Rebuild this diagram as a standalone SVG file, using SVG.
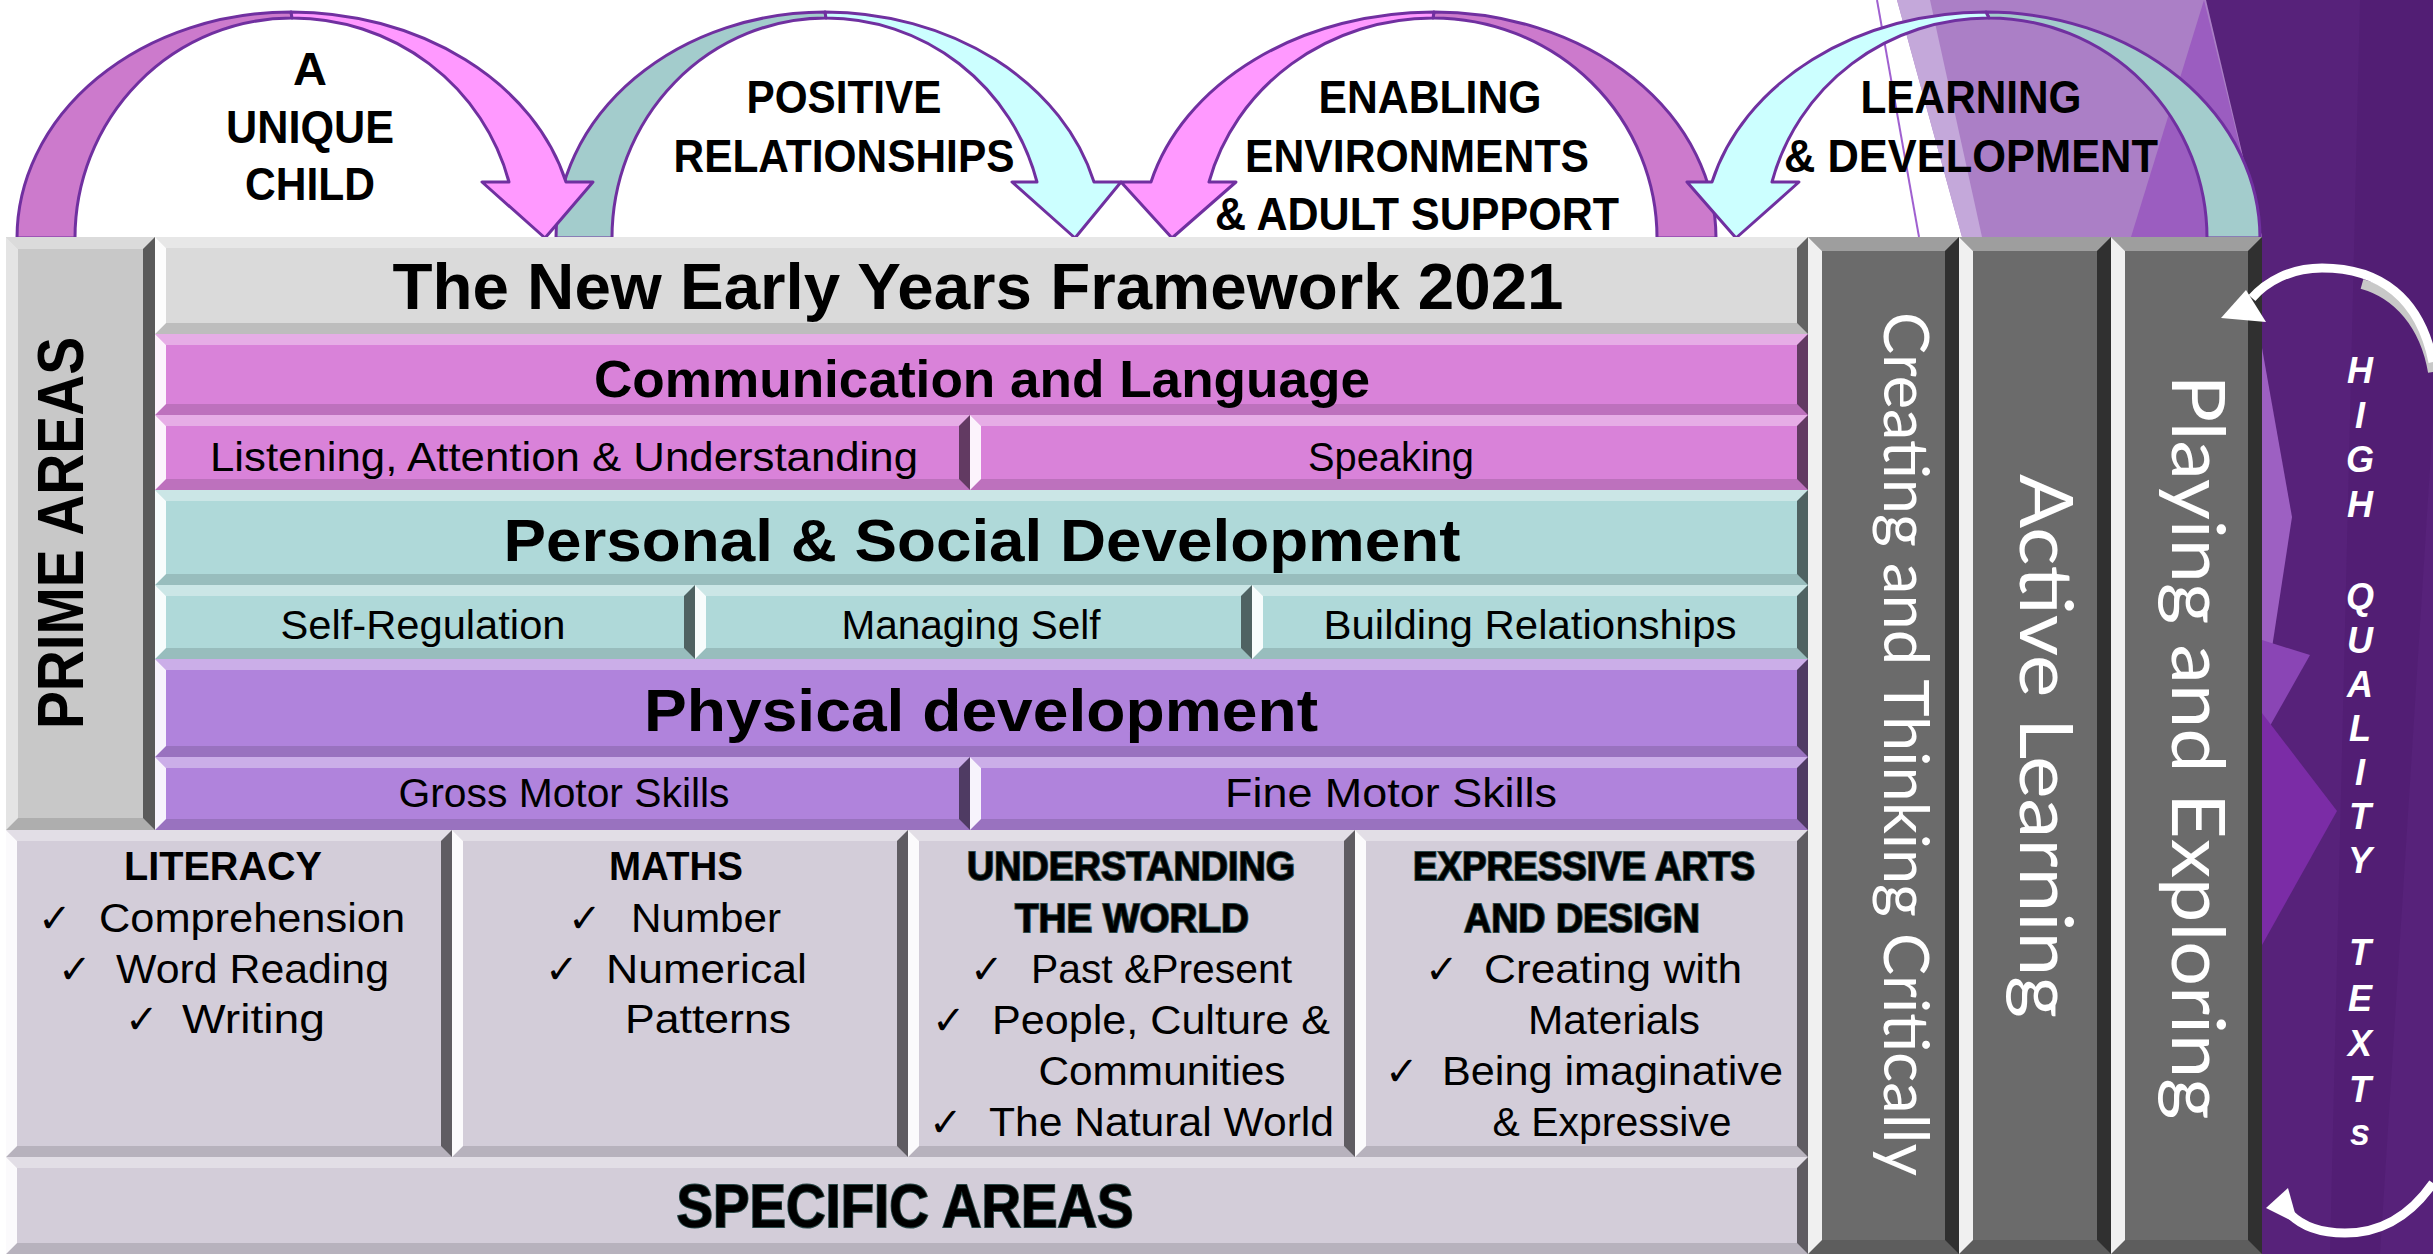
<svg xmlns="http://www.w3.org/2000/svg" width="2433" height="1254" viewBox="0 0 2433 1254">
<defs>
<style>
.t{font-family:"Liberation Sans",Arial,sans-serif;fill:#000}
.b{font-weight:bold}
.c{text-anchor:middle}
.ck{font-family:"DejaVu Sans",sans-serif;font-size:40px;fill:#000}
.w{font-family:Lato,"Open Sans",sans-serif;fill:#fff;text-anchor:middle}
.hq{font-family:"Liberation Sans",Arial,sans-serif;font-weight:bold;font-style:italic;font-size:36px;fill:#fff;text-anchor:middle}
.sh{stroke:#2a4a4a;stroke-width:2;paint-order:stroke}
.bt{fill:#fff;fill-opacity:.35}
.bb{fill:#000;fill-opacity:.13}
.bl{fill:#fff;fill-opacity:.9}
.br{fill:#000;fill-opacity:.55}
.arc{stroke:#7030a0;stroke-width:3;stroke-linejoin:round}
.title{fill:#dadada}
.cl{fill:#d982d9}
.psd{fill:#afd9d9}
.phy{fill:#b083dc}
.spec{fill:#d3cdd9}
.prime{fill:#c8c8c8}
.col{fill:#6b6b6b}
</style>
</defs>
<rect width="2433" height="1254" fill="#fff"/>
<g id="background">
<rect x="2150" y="0" width="283" height="1254" fill="#57227a"/>
<polygon points="2360,0 2433,0 2433,420 2380,1254 2330,1254" fill="#4f1c70" opacity="0.6"/>
<polygon points="1897,0 2206,0 2262,237 1962,237" fill="#ab7fc6"/>
<polygon points="1897,0 1930,0 1982,237 1962,237" fill="#c4a8da"/>
<polygon points="2204,0 2262,237 2131,237" fill="#9b5dc0"/>
<polygon points="2262,348 2292,517 2262,713" fill="#9d60c2"/>
<polygon points="2262,640 2310,655 2262,740" fill="#8a45b5"/>
<polygon points="2262,713 2337,811 2262,945" fill="#7b2ca6"/>
<line x1="1877" y1="0" x2="1919" y2="237" stroke="#a060d0" stroke-width="2"/>
</g>
<g id="connectors">
<g id="arch2">
<path class="arc" fill="#a3cccc" d="M556,238 A269,226 0 0 1 825,12 L826,18 A214,220 0 0 0 612,238 Z"/>
<path class="arc" fill="#ccffff" d="M825,12 A278,226 0 0 1 1094,182 L1121,182 L1075,238 L1012,182 L1037,182 A218,220 0 0 0 826,18 Z"/>
</g>
<g id="arch1">
<path class="arc" fill="#cc7acc" d="M17,238 A274,226 0 0 1 291,12 L292,18 A217,220 0 0 0 75,238 Z"/>
<path class="arc" fill="#ff99ff" d="M291,12 A284,226 0 0 1 566,182 L593,182 L545,238 L482,182 L509,182 A224,220 0 0 0 292,18 Z"/>
</g>
<g id="arch3">
<path class="arc" fill="#cc7acc" d="M1434,12 A282,226 0 0 1 1716,238 L1657,238 A224,220 0 0 0 1433,18 Z"/>
<path class="arc" fill="#ff99ff" d="M1151,182 A292,226 0 0 1 1434,12 L1433,18 A232,220 0 0 0 1209,182 L1236,182 L1172,238 L1121,182 Z"/>
</g>
<g id="arch4">
<path class="arc" fill="#a3cccc" d="M1986,12 A274,226 0 0 1 2260,238 L2207,238 A218,220 0 0 0 1989,18 Z"/>
<path class="arc" fill="#ccffff" d="M1712,182 A283,226 0 0 1 1986,12 L1989,18 A224,220 0 0 0 1772,182 L1799,182 L1736,238 L1687,182 Z"/>
</g>
</g>
<g id="arch-labels">
<text class="t b c" font-size="47" x="310" y="85">A</text>
<text class="t b c" font-size="47" x="310" y="143" textLength="168" lengthAdjust="spacingAndGlyphs">UNIQUE</text>
<text class="t b c" font-size="47" x="310" y="200" textLength="130" lengthAdjust="spacingAndGlyphs">CHILD</text>
<text class="t b c" font-size="47" x="844" y="113" textLength="195" lengthAdjust="spacingAndGlyphs">POSITIVE</text>
<text class="t b c" font-size="47" x="844" y="172" textLength="341" lengthAdjust="spacingAndGlyphs">RELATIONSHIPS</text>
<text class="t b c" font-size="47" x="1430" y="113" textLength="223" lengthAdjust="spacingAndGlyphs">ENABLING</text>
<text class="t b c" font-size="47" x="1417" y="172" textLength="344" lengthAdjust="spacingAndGlyphs">ENVIRONMENTS</text>
<text class="t b c" font-size="47" x="1417" y="230" textLength="404" lengthAdjust="spacingAndGlyphs">&amp; ADULT SUPPORT</text>
<text class="t b c" font-size="47" x="1971" y="113" textLength="221" lengthAdjust="spacingAndGlyphs">LEARNING</text>
<text class="t b c" font-size="47" x="1971" y="172" textLength="374" lengthAdjust="spacingAndGlyphs">&amp; DEVELOPMENT</text>
</g>
<g id="prime-areas">
<rect class="prime" x="6" y="237" width="149" height="593"/>
<polygon class="bt" points="6,237 155,237 143,249 18,249"/>
<polygon class="bb" points="6,830 155,830 143,818 18,818"/>
<polygon class="bl" points="6,237 18,249 18,818 6,830" style="fill-opacity:.5"/>
<polygon class="br" points="155,237 143,249 143,818 155,830"/>
<text class="t b c" font-size="64" transform="translate(83,533) rotate(-90)" textLength="392" lengthAdjust="spacingAndGlyphs">PRIME AREAS</text>
</g>
<g id="title">
<rect class="title" x="155" y="237" width="1653" height="97"/>
<polygon class="bt" points="155,237 1808,237 1797,248 166,248"/>
<polygon class="bb" points="155,334 1808,334 1797,323 166,323"/>
<polygon class="bl" points="155,237 166,248 166,323 155,334"/>
<polygon class="br" points="1808,237 1797,248 1797,323 1808,334"/>
<text class="t b c" font-size="64" x="978" y="309" textLength="1171" lengthAdjust="spacingAndGlyphs">The New Early Years Framework 2021</text>
</g>
<g id="communication-language">
<rect class="cl" x="155" y="334" width="1653" height="81"/>
<polygon class="bt" points="155,334 1808,334 1797,345 166,345"/>
<polygon class="bb" points="155,415 1808,415 1797,404 166,404"/>
<polygon class="bl" points="155,334 166,345 166,404 155,415"/>
<polygon class="br" points="1808,334 1797,345 1797,404 1808,415"/>
<text class="t b c" font-size="52" x="982" y="397" textLength="776" lengthAdjust="spacingAndGlyphs">Communication and Language</text>
</g>
<g id="listening">
<rect class="cl" x="155" y="415" width="815" height="75"/>
<polygon class="bt" points="155,415 970,415 959,426 166,426"/>
<polygon class="bb" points="155,490 970,490 959,479 166,479"/>
<polygon class="bl" points="155,415 166,426 166,479 155,490"/>
<polygon class="br" points="970,415 959,426 959,479 970,490"/>
<text class="t c" font-size="40" x="564" y="471" textLength="708" lengthAdjust="spacingAndGlyphs">Listening, Attention &amp; Understanding</text>
</g>
<g id="speaking">
<rect class="cl" x="970" y="415" width="838" height="75"/>
<polygon class="bt" points="970,415 1808,415 1797,426 981,426"/>
<polygon class="bb" points="970,490 1808,490 1797,479 981,479"/>
<polygon class="bl" points="970,415 981,426 981,479 970,490"/>
<polygon class="br" points="1808,415 1797,426 1797,479 1808,490"/>
<text class="t c" font-size="40" x="1391" y="471" textLength="166" lengthAdjust="spacingAndGlyphs">Speaking</text>
</g>
<g id="personal-social">
<rect class="psd" x="155" y="490" width="1653" height="95"/>
<polygon class="bt" points="155,490 1808,490 1797,501 166,501"/>
<polygon class="bb" points="155,585 1808,585 1797,574 166,574"/>
<polygon class="bl" points="155,490 166,501 166,574 155,585"/>
<polygon class="br" points="1808,490 1797,501 1797,574 1808,585"/>
<text class="t b c" font-size="60" x="982" y="561" textLength="957" lengthAdjust="spacingAndGlyphs">Personal &amp; Social Development</text>
</g>
<g id="self-regulation">
<rect class="psd" x="155" y="585" width="540" height="74"/>
<polygon class="bt" points="155,585 695,585 684,596 166,596"/>
<polygon class="bb" points="155,659 695,659 684,648 166,648"/>
<polygon class="bl" points="155,585 166,596 166,648 155,659"/>
<polygon class="br" points="695,585 684,596 684,648 695,659"/>
<text class="t c" font-size="40" x="423" y="639" textLength="285" lengthAdjust="spacingAndGlyphs">Self-Regulation</text>
</g>
<g id="managing-self">
<rect class="psd" x="695" y="585" width="557" height="74"/>
<polygon class="bt" points="695,585 1252,585 1241,596 706,596"/>
<polygon class="bb" points="695,659 1252,659 1241,648 706,648"/>
<polygon class="bl" points="695,585 706,596 706,648 695,659"/>
<polygon class="br" points="1252,585 1241,596 1241,648 1252,659"/>
<text class="t c" font-size="40" x="971" y="639" textLength="259" lengthAdjust="spacingAndGlyphs">Managing Self</text>
</g>
<g id="building-relationships">
<rect class="psd" x="1252" y="585" width="556" height="74"/>
<polygon class="bt" points="1252,585 1808,585 1797,596 1263,596"/>
<polygon class="bb" points="1252,659 1808,659 1797,648 1263,648"/>
<polygon class="bl" points="1252,585 1263,596 1263,648 1252,659"/>
<polygon class="br" points="1808,585 1797,596 1797,648 1808,659"/>
<text class="t c" font-size="40" x="1530" y="639" textLength="413" lengthAdjust="spacingAndGlyphs">Building Relationships</text>
</g>
<g id="physical">
<rect class="phy" x="155" y="659" width="1653" height="98"/>
<polygon class="bt" points="155,659 1808,659 1797,670 166,670"/>
<polygon class="bb" points="155,757 1808,757 1797,746 166,746"/>
<polygon class="bl" points="155,659 166,670 166,746 155,757"/>
<polygon class="br" points="1808,659 1797,670 1797,746 1808,757"/>
<text class="t b c" font-size="60" x="981" y="731" textLength="674" lengthAdjust="spacingAndGlyphs">Physical development</text>
</g>
<g id="gross-motor">
<rect class="phy" x="155" y="757" width="815" height="73"/>
<polygon class="bt" points="155,757 970,757 959,768 166,768"/>
<polygon class="bb" points="155,830 970,830 959,819 166,819"/>
<polygon class="bl" points="155,757 166,768 166,819 155,830"/>
<polygon class="br" points="970,757 959,768 959,819 970,830"/>
<text class="t c" font-size="40" x="564" y="807" textLength="331" lengthAdjust="spacingAndGlyphs">Gross Motor Skills</text>
</g>
<g id="fine-motor">
<rect class="phy" x="970" y="757" width="838" height="73"/>
<polygon class="bt" points="970,757 1808,757 1797,768 981,768"/>
<polygon class="bb" points="970,830 1808,830 1797,819 981,819"/>
<polygon class="bl" points="970,757 981,768 981,819 970,830"/>
<polygon class="br" points="1808,757 1797,768 1797,819 1808,830"/>
<text class="t c" font-size="40" x="1391" y="807" textLength="332" lengthAdjust="spacingAndGlyphs">Fine Motor Skills</text>
</g>
<g id="literacy">
<rect class="spec" x="6" y="830" width="446" height="327"/>
<polygon class="bt" points="6,830 452,830 441,841 17,841"/>
<polygon class="bb" points="6,1157 452,1157 441,1146 17,1146"/>
<polygon class="bl" points="6,830 17,841 17,1146 6,1157"/>
<polygon class="br" points="452,830 441,841 441,1146 452,1157"/>
<text class="t b c" font-size="40" x="223" y="880" textLength="198" lengthAdjust="spacingAndGlyphs">LITERACY</text>
<text class="ck" x="38" y="932">✓</text>
<text class="t" font-size="40" x="99" y="932" textLength="306" lengthAdjust="spacingAndGlyphs">Comprehension</text>
<text class="ck" x="58" y="983">✓</text>
<text class="t" font-size="40" x="116" y="983" textLength="273" lengthAdjust="spacingAndGlyphs">Word Reading</text>
<text class="ck" x="125" y="1033">✓</text>
<text class="t" font-size="40" x="182" y="1033" textLength="143" lengthAdjust="spacingAndGlyphs">Writing</text>
</g>
<g id="maths">
<rect class="spec" x="452" y="830" width="456" height="327"/>
<polygon class="bt" points="452,830 908,830 897,841 463,841"/>
<polygon class="bb" points="452,1157 908,1157 897,1146 463,1146"/>
<polygon class="bl" points="452,830 463,841 463,1146 452,1157"/>
<polygon class="br" points="908,830 897,841 897,1146 908,1157"/>
<text class="t b c" font-size="40" x="676" y="880" textLength="134" lengthAdjust="spacingAndGlyphs">MATHS</text>
<text class="ck" x="568" y="932">✓</text>
<text class="t" font-size="40" x="631" y="932" textLength="150" lengthAdjust="spacingAndGlyphs">Number</text>
<text class="ck" x="545" y="983">✓</text>
<text class="t" font-size="40" x="606" y="983" textLength="201" lengthAdjust="spacingAndGlyphs">Numerical</text>
<text class="t c" font-size="40" x="708" y="1033" textLength="166" lengthAdjust="spacingAndGlyphs">Patterns</text>
</g>
<g id="understanding-world">
<rect class="spec" x="908" y="830" width="447" height="327"/>
<polygon class="bt" points="908,830 1355,830 1344,841 919,841"/>
<polygon class="bb" points="908,1157 1355,1157 1344,1146 919,1146"/>
<polygon class="bl" points="908,830 919,841 919,1146 908,1157"/>
<polygon class="br" points="1355,830 1344,841 1344,1146 1355,1157"/>
<text class="t b c sh" font-size="40" x="1131" y="880" textLength="328" lengthAdjust="spacingAndGlyphs">UNDERSTANDING</text>
<text class="t b c sh" font-size="40" x="1132" y="932" textLength="234" lengthAdjust="spacingAndGlyphs">THE WORLD</text>
<text class="ck" x="970" y="983">✓</text>
<text class="t" font-size="40" x="1031" y="983" textLength="261" lengthAdjust="spacingAndGlyphs">Past &amp;Present</text>
<text class="ck" x="932" y="1034">✓</text>
<text class="t" font-size="40" x="992" y="1034" textLength="338" lengthAdjust="spacingAndGlyphs">People, Culture &amp;</text>
<text class="t c" font-size="40" x="1162" y="1085" textLength="247" lengthAdjust="spacingAndGlyphs">Communities</text>
<text class="ck" x="929" y="1136">✓</text>
<text class="t" font-size="40" x="989" y="1136" textLength="345" lengthAdjust="spacingAndGlyphs">The Natural World</text>
</g>
<g id="expressive-arts">
<rect class="spec" x="1355" y="830" width="453" height="327"/>
<polygon class="bt" points="1355,830 1808,830 1797,841 1366,841"/>
<polygon class="bb" points="1355,1157 1808,1157 1797,1146 1366,1146"/>
<polygon class="bl" points="1355,830 1366,841 1366,1146 1355,1157"/>
<polygon class="br" points="1808,830 1797,841 1797,1146 1808,1157"/>
<text class="t b c sh" font-size="40" x="1584" y="880" textLength="342" lengthAdjust="spacingAndGlyphs">EXPRESSIVE ARTS</text>
<text class="t b c sh" font-size="40" x="1582" y="932" textLength="236" lengthAdjust="spacingAndGlyphs">AND DESIGN</text>
<text class="ck" x="1425" y="983">✓</text>
<text class="t" font-size="40" x="1484" y="983" textLength="258" lengthAdjust="spacingAndGlyphs">Creating with</text>
<text class="t c" font-size="40" x="1614" y="1034" textLength="172" lengthAdjust="spacingAndGlyphs">Materials</text>
<text class="ck" x="1385" y="1085">✓</text>
<text class="t" font-size="40" x="1442" y="1085" textLength="341" lengthAdjust="spacingAndGlyphs">Being imaginative</text>
<text class="t c" font-size="40" x="1612" y="1136" textLength="239" lengthAdjust="spacingAndGlyphs">&amp; Expressive</text>
</g>
<g id="specific-areas">
<rect class="spec" x="6" y="1157" width="1802" height="97"/>
<polygon class="bt" points="6,1157 1808,1157 1797,1168 17,1168"/>
<polygon class="bb" points="6,1254 1808,1254 1797,1243 17,1243"/>
<polygon class="bl" points="6,1157 17,1168 17,1243 6,1254"/>
<polygon class="br" points="1808,1157 1797,1168 1797,1243 1808,1254"/>
<text class="t b c sh" font-size="62" x="905" y="1227" textLength="457" lengthAdjust="spacingAndGlyphs">SPECIFIC AREAS</text>
</g>
<g id="creating-thinking">
<rect class="col" x="1808" y="237" width="151" height="1017"/>
<polygon class="bt" points="1808,237 1959,237 1945,251 1822,251"/>
<polygon class="bb" points="1808,1254 1959,1254 1945,1240 1822,1240"/>
<polygon class="bl" points="1808,237 1822,251 1822,1240 1808,1254"/>
<polygon class="br" points="1959,237 1945,251 1945,1240 1959,1254"/>
<text class="w" font-size="61" transform="translate(1884,744) rotate(90)" textLength="864" lengthAdjust="spacingAndGlyphs">Creating and Thinking Critically</text>
</g>
<g id="active-learning">
<rect class="col" x="1959" y="237" width="152" height="1017"/>
<polygon class="bt" points="1959,237 2111,237 2097,251 1973,251"/>
<polygon class="bb" points="1959,1254 2111,1254 2097,1240 1973,1240"/>
<polygon class="bl" points="1959,237 1973,251 1973,1240 1959,1254"/>
<polygon class="br" points="2111,237 2097,251 2097,1240 2111,1254"/>
<text class="w" font-size="74" transform="translate(2020,746) rotate(90)" textLength="544" lengthAdjust="spacingAndGlyphs">Active Learning</text>
</g>
<g id="playing-exploring">
<rect class="col" x="2111" y="237" width="151" height="1017"/>
<polygon class="bt" points="2111,237 2262,237 2248,251 2125,251"/>
<polygon class="bb" points="2111,1254 2262,1254 2248,1240 2125,1240"/>
<polygon class="bl" points="2111,237 2125,251 2125,1240 2111,1254"/>
<polygon class="br" points="2262,237 2248,251 2248,1240 2262,1254"/>
<text class="w" font-size="74" transform="translate(2172,747) rotate(90)" textLength="745" lengthAdjust="spacingAndGlyphs">Playing and Exploring</text>
</g>
<g id="hq-arrows">
<path d="M2433,372 C2425,325 2398,294 2362,284" fill="none" stroke="#c8c8c8" stroke-width="10"/>
<path d="M2433,362 C2420,298 2380,268 2322,268 C2290,268 2266,282 2252,298" fill="none" stroke="#fff" stroke-width="9"/>
<polygon points="2221,318 2246,290 2266,322" fill="#fff"/>
<path d="M2433,1183 C2410,1216 2380,1233 2345,1233 C2320,1233 2302,1226 2290,1214" fill="none" stroke="#fff" stroke-width="9"/>
<polygon points="2266,1208 2288,1188 2298,1224" fill="#fff"/>
</g>
<g id="high-quality-texts">
<text class="hq" x="2360" y="383">H</text>
<text class="hq" x="2360" y="428">I</text>
<text class="hq" x="2360" y="472">G</text>
<text class="hq" x="2360" y="517">H</text>
<text class="hq" x="2360" y="609">Q</text>
<text class="hq" x="2360" y="653">U</text>
<text class="hq" x="2360" y="697">A</text>
<text class="hq" x="2360" y="741">L</text>
<text class="hq" x="2360" y="785">I</text>
<text class="hq" x="2360" y="829">T</text>
<text class="hq" x="2360" y="873">Y</text>
<text class="hq" x="2360" y="965">T</text>
<text class="hq" x="2360" y="1011">E</text>
<text class="hq" x="2360" y="1056">X</text>
<text class="hq" x="2360" y="1102">T</text>
<text class="hq" x="2360" y="1145">s</text>
</g>
</svg>
